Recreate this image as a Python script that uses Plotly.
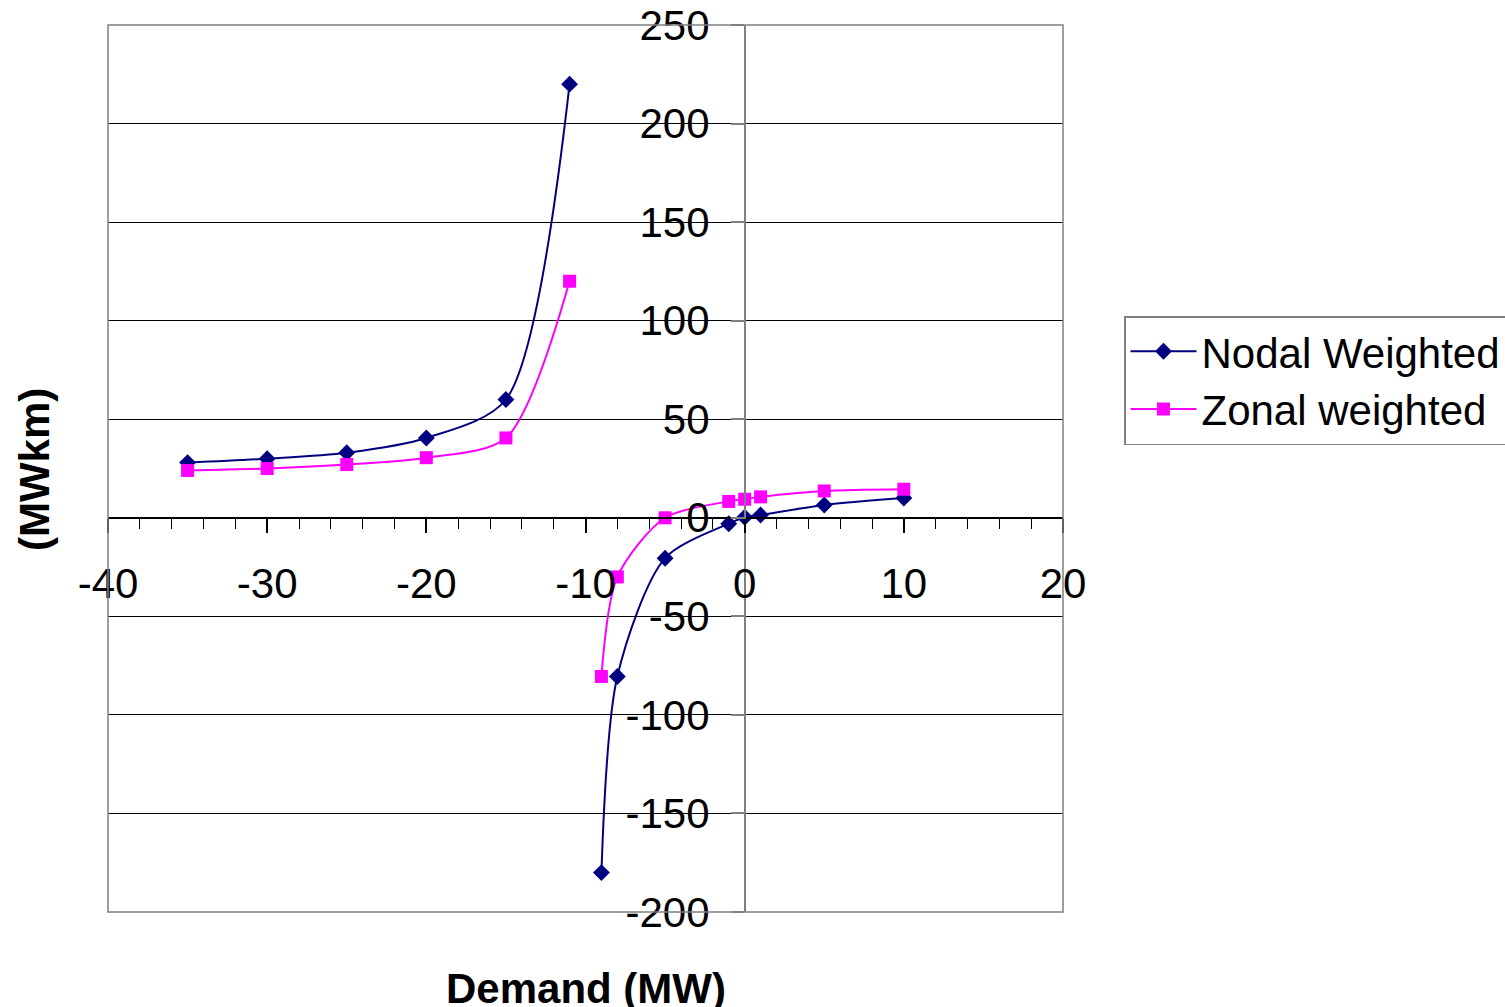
import plotly.graph_objects as go

demand = [-35, -30, -25, -20, -15, -11, -10, -9, -8, -5, -1, 0, 1, 5, 10]
nodal_weighted = [28, 30, 33, 40.5, 60, 220, None, -180, -80.5, -20.5, -3, 0.3, 1.4, 6.5, 10]
zonal_weighted = [24, 25, 27, 30.5, 40.5, 120, None, -80.5, -30, 0, 8.3, 9.4, 10.6, 13.6, 14.5]

x_ticks = [-40, -30, -20, -10, 0, 10, 20]
y_ticks = [-200, -150, -100, -50, 0, 50, 100, 150, 200, 250]

FONT = "Arial, 'Liberation Sans', sans-serif"
W, H = 1505, 1007
L, R, T, B = 108, 442, 25, 95
FS = 42

fig = go.Figure()
fig.add_trace(go.Scatter(
    x=demand, y=nodal_weighted, name="Nodal Weighted", mode="lines+markers",
    line=dict(color="#000080", width=2, shape="spline", smoothing=0.8),
    marker=dict(symbol="diamond", size=13, color="#000080"),
    connectgaps=False))
fig.add_trace(go.Scatter(
    x=demand, y=zonal_weighted, name="Zonal weighted", mode="lines+markers",
    line=dict(color="#FF00FF", width=2, shape="spline", smoothing=0.8),
    marker=dict(symbol="square", size=13, color="#FF00FF"),
    connectgaps=False))

xmin, xmax = -40, 20
ymin, ymax = -200, 250

fig.update_layout(
    width=W, height=H, autosize=False,
    margin=dict(l=L, r=R, t=T, b=B, pad=0, autoexpand=False),
    paper_bgcolor="white", plot_bgcolor="white",
    font=dict(family=FONT, size=FS, color="black"),
    showlegend=True,
    legend=dict(
        x=(1124 - L) / (W - L - R), y=(H - B - 316) / (H - T - B),
        xanchor="left", yanchor="top",
        bordercolor="#808080", borderwidth=1.5, bgcolor="white",
        font=dict(family=FONT, size=FS, color="black"),
        tracegroupgap=0, itemwidth=66,
    ),
    xaxis=dict(
        range=[xmin, xmax], tickvals=x_ticks, ticktext=[str(v) for v in x_ticks],
        anchor="free", position=(0 - ymin) / (ymax - ymin),
        showgrid=False, zeroline=False,
        showline=True, linecolor="black", linewidth=1.5,
        ticks="outside", ticklen=14, tickcolor="black", tickwidth=1.5,
        minor=dict(dtick=2, tick0=0, ticks="outside", ticklen=10, tickcolor="black", tickwidth=1.2),
        ticklabelstandoff=15,
        tickfont=dict(family=FONT, size=FS, color="black"),
    ),
    yaxis=dict(
        range=[ymin, ymax], tickvals=y_ticks, ticktext=[str(v) for v in y_ticks],
        anchor="free", position=(0 - xmin) / (xmax - xmin),
        showgrid=True, gridcolor="black", gridwidth=1,
        zeroline=False,
        showline=True, linecolor="#808080", linewidth=1.5,
        ticks="outside", ticklen=13, tickcolor="#808080", tickwidth=1.5,
        ticklabelstandoff=13,
        tickfont=dict(family=FONT, size=FS, color="black"),
    ),
    shapes=[dict(type="rect", xref="paper", yref="paper", x0=0, x1=1, y0=0, y1=1,
                 line=dict(color="#808080", width=1.5), layer="above")],
    annotations=[
        dict(text="<b>(MWkm)</b>", xref="paper", yref="paper",
             x=(35 - L) / (W - L - R), y=(H - B - 470) / (H - T - B),
             showarrow=False, textangle=-90, font=dict(family=FONT, size=FS, color="black"),
             xanchor="center", yanchor="middle"),
        dict(text="<b>Demand (MW)</b>", xref="paper", yref="paper",
             x=0.5, y=(H - B - 988) / (H - T - B),
             showarrow=False, font=dict(family=FONT, size=FS, color="black"),
             xanchor="center", yanchor="middle"),
    ],
)

fig.write_html("out.html", config={"displayModeBar": False},
               post_script="document.body.style.margin='0';document.body.style.padding='0';document.body.style.overflow='hidden';")
